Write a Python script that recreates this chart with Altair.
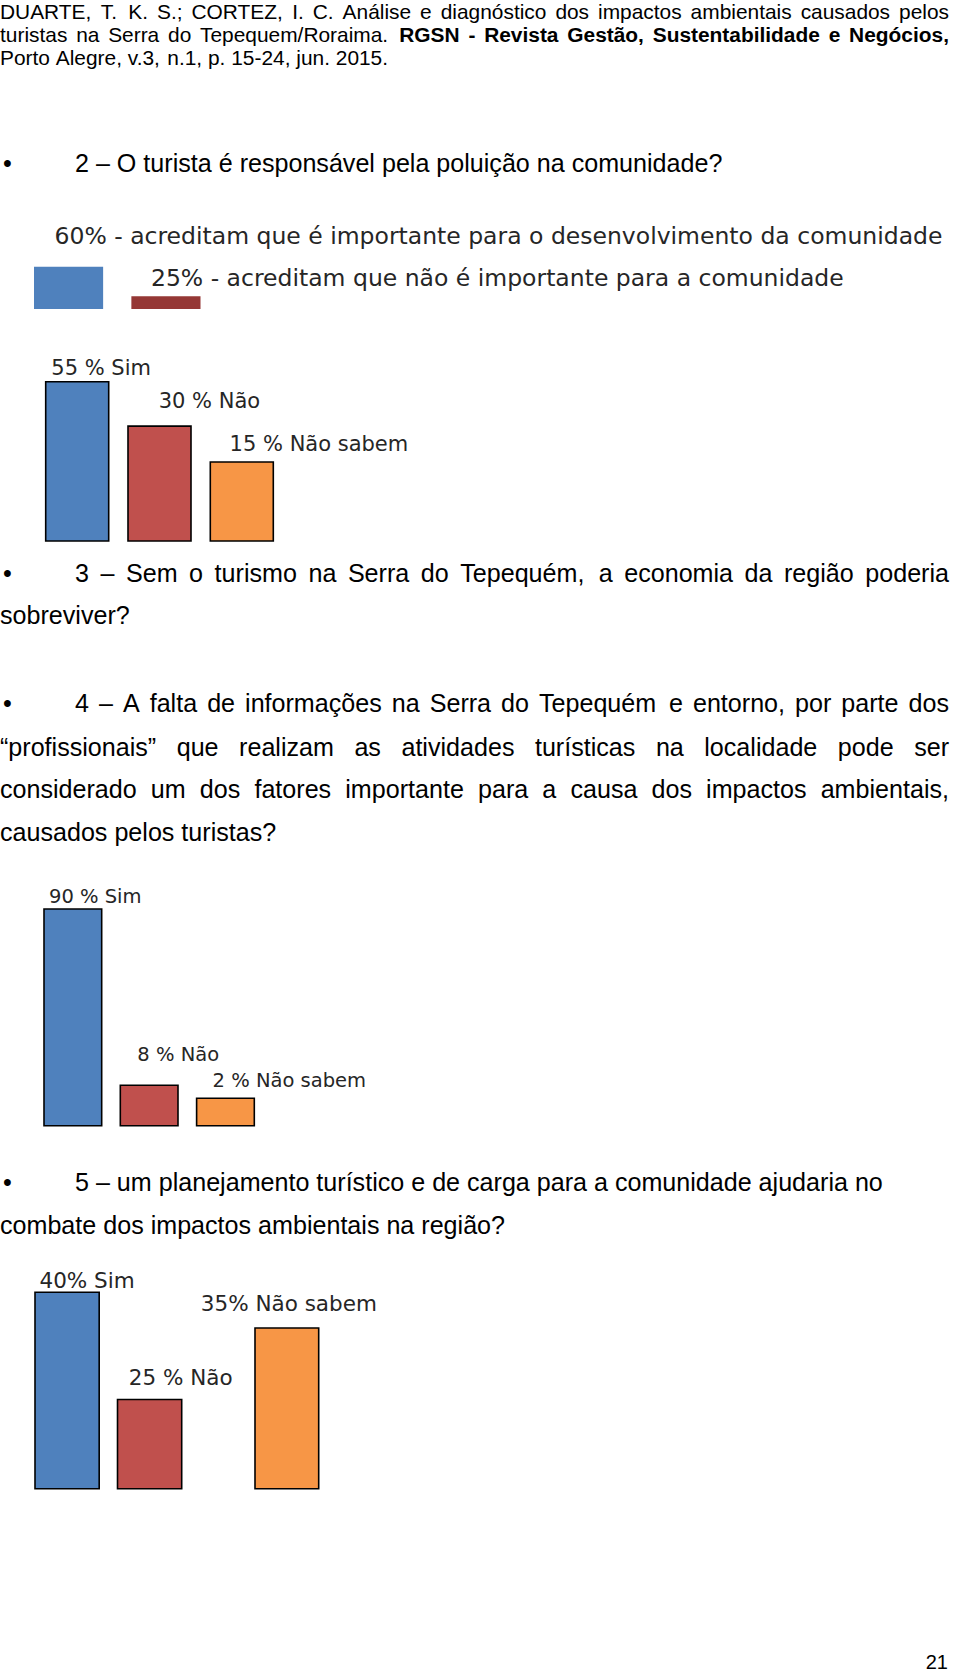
import altair as alt
import pandas as pd
import unicodedata

# ---------------- data ----------------
q1_cats = ["importante", "não importante"]
q1_vals = [60, 25]
q1_labels = ["60% - acreditam que é importante para o desenvolvimento da comunidade",
             "25% - acreditam que não é importante para a comunidade"]

q2_cats = ["Sim", "Não", "Não sabem"]
q2_vals = [55, 30, 15]
q2_labels = ["55 % Sim", "30 % Não", "15 % Não sabem"]

q4_cats = ["Sim", "Não", "Não sabem"]
q4_vals = [90, 8, 2]
q4_labels = ["90 % Sim", "8 % Não", "2 % Não sabem"]

q5_cats = ["Sim", "Não", "Não sabem"]
q5_vals = [40, 25, 35]
q5_labels = ["40% Sim", "25 % Não", "35% Não sabem"]

header_l1 = "DUARTE, T. K. S.; CORTEZ, I. C. Análise e diagnóstico dos impactos ambientais causados pelos"
header_l2_regular = "turistas na Serra do Tepequem/Roraima."
header_l2_bold = "RGSN - Revista Gestão, Sustentabilidade e Negócios,"
header_l3 = "Porto Alegre, v.3, n.1, p. 15-24, jun. 2015."

q2_question = "2 – O turista é responsável pela poluição na comunidade?"
q3_question = ["3 – Sem o turismo na Serra do Tepequém, a economia da região poderia",
               "sobreviver?"]
q4_question = ["4 – A falta de informações na Serra do Tepequém e entorno, por parte dos",
               "“profissionais” que realizam as atividades turísticas na localidade pode ser",
               "considerado um dos fatores importante para a causa dos impactos ambientais,",
               "causados pelos turistas?"]
q5_question = ["5 – um planejamento turístico e de carga para a comunidade ajudaria no",
               "combate dos impactos ambientais na região?"]
page_number = "21"

# ---------------- text layout helpers (Helvetica / Liberation Sans metrics) ----------------
REG = {' ': 278, '%': 889, ',': 278, '-': 333, '.': 278, '/': 278, ':': 278, ';': 278, '?': 556,
       '–': 556, '“': 333, '”': 333, '•': 350,
       'A': 667, 'B': 667, 'C': 722, 'D': 722, 'E': 667, 'F': 611, 'G': 778, 'H': 722, 'I': 278,
       'J': 500, 'K': 667, 'L': 556, 'M': 833, 'N': 722, 'O': 778, 'P': 667, 'Q': 778, 'R': 722,
       'S': 667, 'T': 611, 'U': 722, 'V': 667, 'W': 944, 'X': 667, 'Y': 667, 'Z': 611,
       'a': 556, 'b': 556, 'c': 500, 'd': 556, 'e': 556, 'f': 278, 'g': 556, 'h': 556, 'i': 222,
       'j': 222, 'k': 500, 'l': 222, 'm': 833, 'n': 556, 'o': 556, 'p': 556, 'q': 556, 'r': 333,
       's': 500, 't': 278, 'u': 556, 'v': 500, 'w': 722, 'x': 500, 'y': 500, 'z': 500, 'í': 278}
BOLD = {' ': 278, ',': 278, '-': 333, '.': 278,
        'A': 722, 'B': 722, 'C': 722, 'D': 722, 'E': 667, 'G': 778, 'N': 722, 'R': 722, 'S': 667,
        'a': 556, 'b': 611, 'c': 556, 'd': 611, 'e': 556, 'g': 611, 'i': 278, 'l': 278, 'n': 611,
        'o': 611, 'r': 389, 's': 556, 't': 333, 'u': 611, 'v': 556, 'ó': 611, 'ã': 556}


def char_w(ch, bold):
    table = BOLD if bold else REG
    if ch in table:
        return table[ch]
    base = unicodedata.normalize("NFD", ch)[0]
    return table.get(base, REG.get(base, 556))


def word_w(word, size, bold=False):
    return sum(char_w(c, bold) for c in word) * size / 1000.0


rows = []


def place_line(pieces, x0, x1, y, size, justify):
    """pieces: list of (word, bold)"""
    widths = [word_w(w, size, b) for w, b in pieces]
    if justify and len(pieces) > 1:
        gap = (x1 - x0 - sum(widths)) / (len(pieces) - 1)
    else:
        gap = 278 * size / 1000.0
    x = x0
    for (w, b), wd in zip(pieces, widths):
        rows.append({"t": w, "x": x, "y": y, "size": size, "bold": b})
        x += wd + gap


def words(s, bold=False):
    return [(w, bold) for w in s.split(" ")]


HS = 20.9   # header font size
BS = 25.1   # body font size
HR = 949    # header right edge
BR = 949    # body right edge
IND = 75    # first line indent after bullet

place_line(words(header_l1), 0, HR, 19.4, HS, True)
place_line(words(header_l2_regular) + words(header_l2_bold, True), 0, HR, 42, HS, True)
place_line(words(header_l3), 0, HR, 65, HS, False)

for yb in [171.5, 582, 712, 1191]:
    rows.append({"t": "•", "x": 3, "y": yb, "size": BS, "bold": False})

place_line(words(q2_question), IND, BR, 171.5, BS, False)
place_line(words(q3_question[0]), IND, BR, 582, BS, True)
place_line(words(q3_question[1]), 0, BR, 624, BS, False)
place_line(words(q4_question[0]), IND, BR, 712, BS, True)
place_line(words(q4_question[1]), 0, BR, 756.2, BS, True)
place_line(words(q4_question[2]), 0, BR, 798.3, BS, True)
place_line(words(q4_question[3]), 0, BR, 841.2, BS, False)
place_line(words(q5_question[0]), IND, BR, 1191, BS, False)
place_line(words(q5_question[1]), 0, BR, 1234, BS, False)

text_df = pd.DataFrame(rows)

page_text = alt.Chart(text_df).transform_filter("!datum.bold").mark_text(
    align="left", baseline="alphabetic", font="Liberation Sans", color="#000000"
).encode(
    x=alt.X("x:Q", scale=None, axis=None),
    y=alt.Y("y:Q", scale=None, axis=None),
    text="t:N",
    size=alt.Size("size:Q", scale=None, legend=None),
)
page_text_bold = alt.Chart(text_df).transform_filter("datum.bold").mark_text(
    align="left", baseline="alphabetic", font="Liberation Sans", fontWeight="bold", color="#000000"
).encode(
    x=alt.X("x:Q", scale=None, axis=None),
    y=alt.Y("y:Q", scale=None, axis=None),
    text="t:N",
    size=alt.Size("size:Q", scale=None, legend=None),
)
page_num = alt.Chart(pd.DataFrame({"t": [page_number]})).mark_text(
    align="right", baseline="alphabetic", font="Liberation Sans", fontSize=20, color="#000000"
).encode(x=alt.value(948), y=alt.value(1669), text="t:N")

# ---------------- bar charts ----------------
BLUE, RED, ORANGE = "#4F81BD", "#C0504D", "#F79646"


def bar_group(cats, vals, labels, subset, x_range, pinner, y_scale_kw, base_val, colors,
              label_offsets, label_size, stroke, stroke_w):
    df = pd.DataFrame({"cat": cats, "val": vals, "label": labels})
    xs = alt.Scale(type="band", domain=subset, range=x_range, paddingInner=pinner, paddingOuter=0)
    ys = alt.Scale(zero=False, nice=False, **y_scale_kw)
    cs = alt.Scale(domain=cats, range=colors)
    base = alt.Chart(df).transform_filter(alt.FieldOneOfPredicate(field="cat", oneOf=subset))
    mark_kw = {"strokeWidth": stroke_w}
    if stroke:
        mark_kw["stroke"] = stroke
    layers = [base.mark_bar(**mark_kw).encode(
        x=alt.X("cat:N", scale=xs, axis=None, sort=subset),
        y=alt.Y("val:Q", scale=ys, axis=None),
        y2=alt.datum(base_val),
        color=alt.Color("cat:N", scale=cs, legend=None),
    )]
    for c in subset:
        dx, dy = label_offsets[c]
        layers.append(
            alt.Chart(df).transform_filter(alt.datum.cat == c).mark_text(
                align="left", baseline="middle", dx=dx, dy=dy,
                font="DejaVu Sans", fontSize=label_size, color="#262626"
            ).encode(
                x=alt.X("cat:N", scale=xs, axis=None, bandPosition=0, sort=subset),
                y=alt.Y("val:Q", scale=ys, axis=None),
                text="label:N",
            )
        )
    return layers


layers = [page_text, page_text_bold, page_num]

# Chart for question 1 (top)
layers += bar_group(q1_cats, q1_vals, q1_labels, q1_cats, [34, 200.5], 0.29,
                    dict(type="linear", domain=[10, 60], range=[309, 266.7]), 10,
                    [BLUE, "#953735"],
                    {"importante": (20.5, -30), "não importante": (19.6, -17.3)},
                    23.5, None, 0)
# Chart for question 2
layers += bar_group(q2_cats, q2_vals, q2_labels, q2_cats, [45.7, 273.3], 0.2345,
                    dict(type="pow", exponent=0.54, domain=[0, 55], range=[541, 381.7]), 0,
                    [BLUE, RED, ORANGE],
                    {"Sim": (5.6, -12.4), "Não": (30.7, -24.3), "Não sabem": (19.3, -16.7)},
                    21, "#000000", 1.6)
# Chart for question 4
layers += bar_group(q4_cats, q4_vals, q4_labels, q4_cats, [44, 254.3], 0.244,
                    dict(type="linear", domain=[-10.8, 90], range=[1125.7, 909]), -10.8,
                    [BLUE, RED, ORANGE],
                    {"Sim": (5, -11.7), "Não": (17, -30), "Não sabem": (16, -17.5)},
                    19.5, "#000000", 1.6)
# Chart for question 5 (third bar set apart)
layers += bar_group(q5_cats, q5_vals, q5_labels, ["Sim", "Não"], [35, 181.7], 0.222,
                    dict(type="linear", domain=[12.5, 40], range=[1488.7, 1292.3]), 12.5,
                    [BLUE, RED, ORANGE],
                    {"Sim": (4.5, -10.6), "Não": (11.2, -20)},
                    21.5, "#000000", 1.6)
layers += bar_group(q5_cats, q5_vals, q5_labels, ["Não sabem"], [255, 318.7], 0,
                    dict(type="linear", domain=[12.5, 40], range=[1488.7, 1292.3]), 12.5,
                    [BLUE, RED, ORANGE],
                    {"Não sabem": (-54.2, -23)},
                    21.5, "#000000", 1.6)

chart = alt.layer(*layers).resolve_scale(
    x="independent", y="independent", color="independent", size="independent"
).properties(
    width=960, height=1675, padding=0, autosize=alt.AutoSizeParams(type="none"),
    background="white"
).configure_view(stroke=None)

chart.save("out.html", embed_options={"renderer": "svg", "actions": False})
